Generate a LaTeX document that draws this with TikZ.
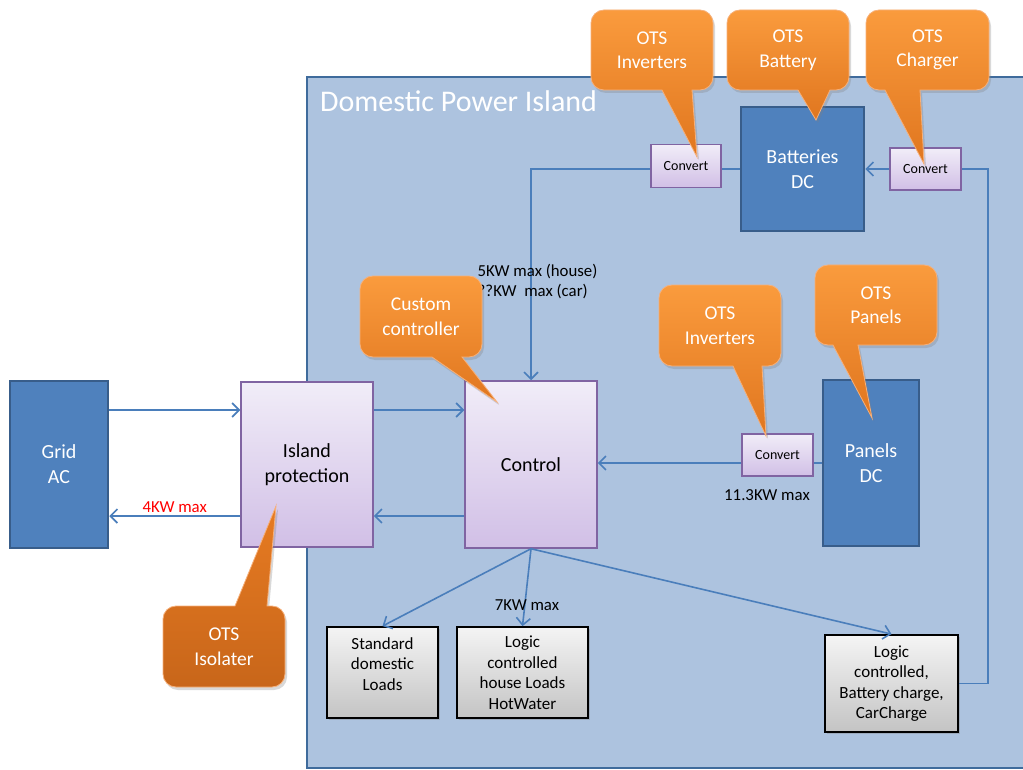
\documentclass[tikz,border=0pt]{standalone}
\usepackage{fontspec}
\setmainfont{Carlito}
\usetikzlibrary{arrows.meta,shadows}

\definecolor{islandfill}{HTML}{ADC3DF}
\definecolor{islandline}{HTML}{3F6B9C}
\definecolor{dcblue}{HTML}{4F81BD}
\definecolor{dcline}{HTML}{385D8A}
\definecolor{lavtop}{HTML}{F1EDF8}
\definecolor{lavbot}{HTML}{D1BFE6}
\definecolor{lavline}{HTML}{8064A2}
\definecolor{greytop}{HTML}{F4F4F4}
\definecolor{greybot}{HTML}{C4C4C4}
\definecolor{flowblue}{HTML}{4A7EBB}
\definecolor{orangetop}{HTML}{FA9B3D}
\definecolor{orangebot}{HTML}{E0761F}
\definecolor{orangeline}{HTML}{F6B07A}
\definecolor{deeporangetop}{HTML}{E77B22}
\definecolor{deeporangebot}{HTML}{C8661A}
\definecolor{limitred}{HTML}{FF0000}

\tikzset{
  dcbox/.style={draw=dcline, line width=2.5pt, fill=dcblue, text=white,
    font=\fontsize{20}{25}\selectfont, align=center, inner sep=0pt},
  lavbox/.style={draw=lavline, line width=1.5pt, top color=lavtop, bottom color=lavbot,
    font=\fontsize{20}{25}\selectfont, align=center, inner sep=0pt},
  convbox/.style={lavbox, font=\fontsize{14}{16}\selectfont},
  loadbox/.style={draw=black, line width=1.8pt, top color=greytop, bottom color=greybot,
    font=\fontsize{17}{20.5}\selectfont, align=center, inner sep=0pt,
    drop shadow={opacity=0.35, shadow xshift=1.5pt, shadow yshift=-2pt}},
  flow/.style={draw=flowblue, line width=1.6pt},
  arrowed/.style={flow, -{Straight Barb[length=7pt,width=14pt]}},
  flowlabel/.style={font=\fontsize{16.8}{20}\selectfont, inner sep=1pt},
  calloutshape/.style={top color=orangetop, bottom color=orangebot, draw=orangeline,
    line width=0.8pt, drop shadow={opacity=0.3, shadow xshift=2pt, shadow yshift=-3pt}},
  callouttext/.style={text=white, font=\fontsize{19.5}{24.5}\selectfont, align=center, inner sep=0pt},
}

% callout with its pointer hanging from the bottom edge, corners of radius 13
% #1 name, #2..#5 box corners, #6/#7 pointer base, #8 pointer tip, #9 text
\newcommand\otscallout[9]{%
  \path[calloutshape] ({(#2+#4)/2},#3) -- ({#4-13},#3)
    .. controls ({#4-5.8},#3) and (#4,{#3+5.8}) .. (#4,{#3+13})
    -- (#4,{#5-13})
    .. controls (#4,{#5-5.8}) and ({#4-5.8},#5) .. ({#4-13},#5)
    -- (#7,#5) -- (#8) -- (#6,#5)
    -- ({#2+13},#5)
    .. controls ({#2+5.8},#5) and (#2,{#5-5.8}) .. (#2,{#5-13})
    -- (#2,{#3+13})
    .. controls (#2,{#3+5.8}) and ({#2+5.8},#3) .. ({#2+13},#3) -- cycle;
  \node[callouttext] (#1) at ({(#2+#4)/2},{(#3+#5)/2}) {#9};}

\begin{document}
\begin{tikzpicture}[x=1pt,y=-1pt]
\useasboundingbox (0,0) rectangle (1023,770);

% the island enclosure
\path[draw=islandline, line width=2.5pt, fill=islandfill] (307,77) rectangle (1040,768);
\node[anchor=base west, text=white, font=\fontsize{30}{36}\selectfont, inner sep=0pt]
  (title) at (320,112) {Domestic Power Island};

% main blocks
\node[dcbox, minimum width=98pt, minimum height=167pt] (grid) at (59,464.5) {Grid\\AC};
\node[lavbox, minimum width=132pt, minimum height=165pt] (island) at (307,464.5) {Island\\protection};
\node[lavbox, minimum width=132pt, minimum height=167pt] (control) at (531,464.5) {Control};
\node[dcbox, minimum width=123pt, minimum height=124pt] (batteries) at (802.5,169) {Batteries\\DC};
\node[dcbox, minimum width=96pt, minimum height=166pt] (panels) at (871,463) {Panels\\DC};

% converters
\node[convbox, minimum width=70pt, minimum height=43pt] (conv1) at (686,166) {Convert};
\node[convbox, minimum width=71pt, minimum height=42pt] (conv2) at (925.5,169) {Convert};
\node[convbox, minimum width=71pt, minimum height=42pt] (conv3) at (777.5,455) {Convert};

% loads
\node[loadbox, minimum width=111pt, minimum height=91pt, text depth=17pt] (load1) at (382.5,672.5)
  {Standard\\domestic\\Loads};
\node[loadbox, minimum width=131pt, minimum height=91pt] (load2) at (522.5,672.5)
  {Logic\\controlled\\house Loads\\HotWater};
\node[loadbox, minimum width=133pt, minimum height=97pt] (load3) at (891.5,683.5)
  {Logic\\controlled,\\Battery charge,\\CarCharge};

% helper levels for the parallel links
\coordinate (upper) at (0,410);
\coordinate (lower) at (0,516);
\coordinate (rail) at (988,0);

% grid <-> island <-> control
\draw[arrowed] (grid.east |- upper) -- (island.west |- upper);
\draw[arrowed] (island.west |- lower) -- node[above, flowlabel, text=limitred, yshift=2pt] (exportlim) {4KW max} (grid.east |- lower);
\draw[arrowed] (island.east |- upper) -- (control.west |- upper);
\draw[arrowed] (control.west |- lower) -- (island.east |- lower);

% battery side
\draw[flow] (batteries.west) -- (batteries.west -| conv1.east);
\draw[arrowed] (conv1.west |- batteries.west) -| (control.north);
\draw[arrowed] (conv2.west) -- (conv2.west -| batteries.east);
\draw[flow] (load3.east) -| (rail |- conv2.east) -- (conv2.east);
\node[flowlabel, anchor=west, align=left, inner sep=0pt] (houselim) at (477.5,282)
  {5KW max (house)\\??KW\ \ max (car)};

% panels side
\draw[flow] (panels.west) -- (panels.west -| conv3.east);
\draw[arrowed] (conv3.west |- panels.west) -- (control.east |- panels.west);
\node[flowlabel] (panellim) at (767,495) {11.3KW max};

% distribution to loads
\draw[arrowed] (control.south) -- (load1.north);
\draw[arrowed] (control.south) -- (load2.north);
\draw[arrowed] (control.south) -- (load3.north);
\node[flowlabel] (loadlim) at (527,605) {7KW max};

% callouts
\otscallout{otsinvtop}{591}{10}{713}{90}{662}{692}{697,157}{OTS\\Inverters}
\otscallout{otsbattery}{727}{10}{849}{90}{798}{830}{816,120}{OTS\\Battery}
\otscallout{otscharger}{866}{10}{989}{90}{885}{920}{924,164}{OTS\\Charger}
\otscallout{customctl}{360}{276}{482}{357}{432}{462}{497,402}{Custom\\controller}
\otscallout{otsinvmid}{659}{285}{781}{366}{733}{762}{766,436}{OTS\\Inverters}
\otscallout{otspanels}{815}{265}{937}{345}{833}{858}{872,418}{OTS\\Panels}

% isolater callout, pointer rising from its top edge
\path[calloutshape, top color=deeporangetop, bottom color=deeporangebot]
  (224,687) -- (176,687)
  .. controls (168.8,687) and (163,681.2) .. (163,674)
  -- (163,619)
  .. controls (163,611.8) and (168.8,606) .. (176,606)
  -- (235,606) -- (276,506) -- (267,606)
  -- (272,606)
  .. controls (279.2,606) and (285,611.8) .. (285,619)
  -- (285,674)
  .. controls (285,681.2) and (279.2,687) .. (272,687) -- cycle;
\node[callouttext] (otsisolater) at (224,646.5) {OTS\\Isolater};
\end{tikzpicture}
\end{document}
